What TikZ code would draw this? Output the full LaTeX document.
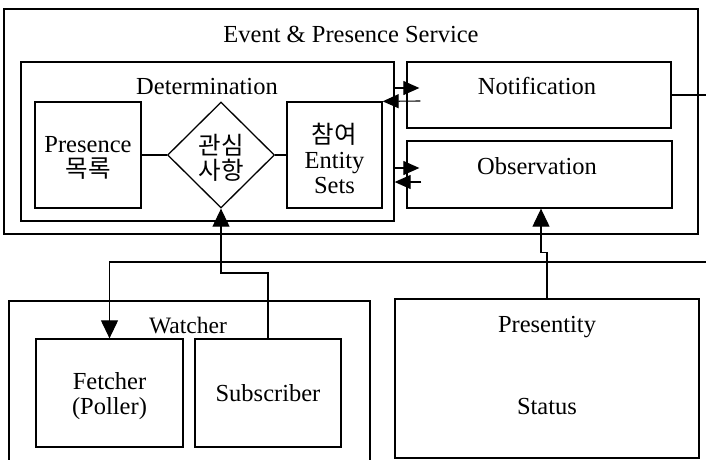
\documentclass[tikz,border=0pt]{standalone}
\usepackage{fontspec}
\setmainfont{Liberation Serif}
\newfontfamily\kr{Noto Sans CJK KR}
\usetikzlibrary{shapes.geometric,arrows.meta,calc}
\begin{document}
\begin{tikzpicture}[x=1pt,y=-1pt,
  box/.style={draw,line width=1.3pt,inner sep=0pt,align=center},
  lbl/.style={inner sep=0pt,align=center},
  conn/.style={line width=1.1pt},
  arr/.style={conn,-{Triangle[length=18pt,width=17pt]}},
  sarr/.style={conn,-{Triangle[length=16pt,width=14pt]}},
  every node/.style={font=\fontsize{24.5}{25}\selectfont}]
\useasboundingbox (0,0) rectangle (706,459);
\clip (0,0) rectangle (706,459);
% boxes
\node[box,minimum width=694pt,minimum height=225pt] (outer) at (351,121.5) {};
\node[box,minimum width=373pt,minimum height=159pt] (det) at (207.5,141.5) {};
\node[box,minimum width=106pt,minimum height=106pt] (pres) at (88,155) {};
\node[lbl] (presl) at (88,158) {Presence\\{\kr 목록}};
\node[box,diamond,minimum width=107pt,minimum height=106pt] (dia) at (221,155) {};
\node[lbl] (dial) at (221,158) {\kr 관심\\\kr 사항};
\node[box,minimum width=95pt,minimum height=106pt] (ent) at (334.5,155) {};
\node[lbl] (entl) at (334.5,158) {{\kr 참여}\\Entity\\Sets};
\node[box,minimum width=264pt,minimum height=66pt] (notif) at (539,95) {};
\node[box,minimum width=265pt,minimum height=67pt] (obs) at (539.5,174.5) {};
\node[box,minimum width=361pt,minimum height=169pt] (watch) at (189.5,385.5) {};
\node[box,minimum width=147pt,minimum height=108pt] (fetch) at (109.5,393) {};
\node[lbl] (fetchl) at (109.5,396) {Fetcher\\(Poller)};
\node[box,minimum width=146pt,minimum height=108pt] (subs) at (268,393) {Subscriber};
\node[box,minimum width=304pt,minimum height=159pt] (prest) at (547,378.5) {};
% labels
\node[lbl] (title) at (351,34) {Event \& Presence Service};
\node[lbl] (detl) at (207,87) {Determination};
\node[lbl] (notifl) at (537,86) {Notification};
\node[lbl] (obsl) at (537,166) {Observation};
\node[lbl,font=\fontsize{23.5}{25}\selectfont] (watchl) at (188,326) {Watcher};
\node[lbl] (prestl) at (547,327) {Presentity};
\node[lbl] (status) at (547,406) {Status};
% free ends
\coordinate (edgeA) at (706,95);
\coordinate (edgeB) at (706,262);
% connectors
\draw[conn] (pres.east) -- (dia.west);
\draw[conn] (dia.east) -- (ent.west);
\draw[sarr] (det.east |- 0,88) -- ([xshift=13pt]notif.west |- 0,88);
\draw[sarr] ([xshift=14pt]notif.west |- 0,101) -- (ent.north east);
\draw[sarr] (det.east |- 0,168) -- ([xshift=13pt]obs.west |- 0,168);
\draw[sarr] ([xshift=15pt]obs.west |- 0,182) -- (det.east |- 0,182);
\draw[conn] (notif.east) -- (edgeA);
\draw[arr] (subs.north) -- (subs.north |- 0,273) -| (dia.south);
\draw[arr] (edgeB) -| (fetch.north);
\draw[arr] (prest.north) -- ++(0,-46) -| ($(obs.south)+(1.5,0)$);
\end{tikzpicture}
\end{document}
